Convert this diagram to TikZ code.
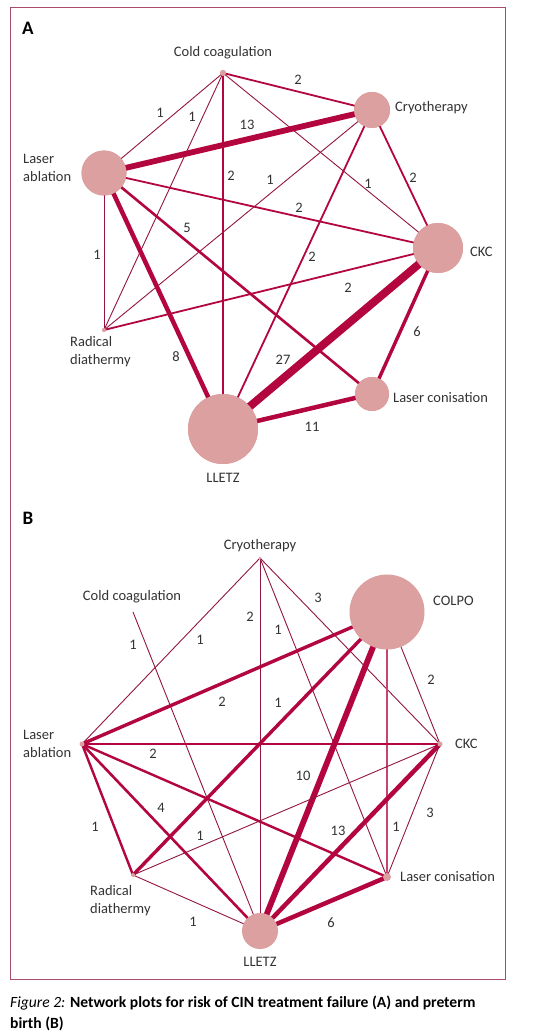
\documentclass[tikz,border=0pt]{standalone}
\usepackage{fontspec}
\setmainfont{Carlito}
\begin{document}
\begin{tikzpicture}[x=1pt,y=-1pt,
  nd/.style={circle,fill=nodefill,inner sep=0pt,minimum size=#1},
  lbl/.style={text=txt,font=\fontsize{14.5}{18}\selectfont,inner sep=0pt},
  num/.style={text=txt,font=\fontsize{14.5}{18}\selectfont,inner sep=0pt},
  w1/.style={draw=edgedark,line width=0.9pt},
  w2/.style={draw=edgec,line width=1.8pt},
  w3/.style={draw=edgec,line width=2.6pt},
  w4/.style={draw=edgec,line width=3.4pt},
  w5/.style={draw=edgec,line width=4.5pt},
  w6/.style={draw=edgec,line width=5.8pt},
  w8/.style={draw=edgec,line width=8pt},
  panel/.style={font=\fontsize{19}{22}\selectfont\bfseries,text=black,inner sep=0pt}
]
\definecolor{edgec}{HTML}{B3063F}
\definecolor{edgedark}{HTML}{92163F}
\definecolor{nodefill}{HTML}{DCA0A0}
\definecolor{txt}{HTML}{333333}
\definecolor{framec}{HTML}{A84C6C}
\useasboundingbox[fill=white] (0,0) rectangle (543,1032);
\draw[framec,line width=1pt] (10,8) rectangle (505,979);

% ---------------- Panel A ----------------
\node[panel] (pA) at (28,28) {A};
\node[nd=6pt] (aCC) at (223,73) {};
\node[nd=36pt] (aCR) at (372,110) {};
\node[nd=45pt] (aLA) at (104,173) {};
\node[nd=50pt] (aCK) at (438,248) {};
\node[nd=4pt] (aRD) at (104,330) {};
\node[nd=70pt] (aLL) at (223,429) {};
\node[nd=34pt] (aLC) at (372,394) {};

\draw[w2] (aCC.center) -- (aCR.center);
\draw[w1] (aCC.center) -- (aLA.center);
\draw[w1] (aCC.center) -- (aRD.center);
\draw[w2] (aCC.center) -- (aLL.center);
\draw[w1] (aCC.center) -- (aCK.center);
\draw[w6] (aLA.center) -- (aCR.center);
\draw[w1] (aCR.center) -- (aRD.center);
\draw[w2] (aCR.center) -- (aLL.center);
\draw[w2] (aCR.center) -- (aCK.center);
\draw[w2] (aLA.center) -- (aCK.center);
\draw[w3] (aLA.center) -- (aLC.center);
\draw[w5] (aLA.center) -- (aLL.center);
\draw[w1] (aLA.center) -- (aRD.center);
\draw[w2] (aRD.center) -- (aCK.center);
\draw[w8] (aCK.center) -- (aLL.center);
\draw[w4] (aCK.center) -- (aLC.center);
\draw[w5] (aLL.center) -- (aLC.center);

\node[nd=6pt] at (aCC) {};
\node[nd=36pt] at (aCR) {};
\node[nd=45pt] at (aLA) {};
\node[nd=50pt] at (aCK) {};
\node[nd=4pt] at (aRD) {};
\node[nd=70pt] at (aLL) {};
\node[nd=34pt] at (aLC) {};

\node[lbl] (taCC) at (223,53) {Cold coagulation};
\node[lbl,anchor=west] (taCR) at (395,108) {Cryotherapy};
\node[lbl,anchor=west,align=left] (taLA) at (23,168) {Laser\\ablation};
\node[lbl,anchor=west] (taCK) at (470,252) {CKC};
\node[lbl,anchor=west,align=left] (taRD) at (70,352) {Radical\\diathermy};
\node[lbl] (taLL) at (223,478) {LLETZ};
\node[lbl,anchor=west] (taLC) at (393,398) {Laser conisation};

\node[num] (na1) at (298,80) {2};
\node[num] (na2) at (160,113) {1};
\node[num] (na3) at (192,117) {1};
\node[num] (na4) at (247,125) {13};
\node[num] (na5) at (231,176) {2};
\node[num] (na6) at (270,180) {1};
\node[num] (na7) at (368,184) {1};
\node[num] (na8) at (413,178) {2};
\node[num] (na9) at (299,208) {2};
\node[num] (na10) at (187,228) {5};
\node[num] (na11) at (97,255) {1};
\node[num] (na12) at (312,257) {2};
\node[num] (na13) at (348,288) {2};
\node[num] (na14) at (417,332) {6};
\node[num] (na15) at (176,357) {8};
\node[num] (na16) at (283,360) {27};
\node[num] (na17) at (312,427) {11};

% ---------------- Panel B ----------------
\node[panel] (pB) at (28,518) {B};
\coordinate (bCR) at (260,558);
\coordinate (bCC) at (133,612);
\coordinate (bCO) at (387,612);
\coordinate (bLA) at (82,744);
\coordinate (bCK) at (440,744);
\coordinate (bRD) at (133,875);
\coordinate (bLL) at (260,931);
\coordinate (bLC) at (387,877);

\draw[w1] (bCC) -- (bLL);
\draw[w1] (bCR) -- (bLA);
\draw[w1] (bCR) -- (bLL);
\draw[w1] (bCR) -- (bLC);
\draw[w1] (bCR) -- (bCK);
\draw[w4] (bCO) -- (bLA);
\draw[w4] (bCO) -- (bRD);
\draw[w6] (bCO) -- (bLL);
\draw[w1] (bCO) -- (bCK);
\draw[edgec!75,line width=1.5pt] (bCO) -- (bLC);
\draw[w2] (bLA) -- (bCK);
\draw[draw=edgec,line width=2.4pt] (bLA) -- (bRD);
\draw[w3] (bLA) -- (bLL);
\draw[draw=edgec,line width=2.4pt] (bLA) -- (bLC);
\draw[w1] (bRD) -- (bCK);
\draw[w1] (bRD) -- (bLL);
\draw[w5] (bCK) -- (bLL);
\draw[w1] (bCK) -- (bLC);
\draw[w5] (bLL) -- (bLC);

\node[nd=3pt] (nbCR) at (bCR) {};
\node[nd=75pt] (nbCO) at (bCO) {};
\node[nd=5pt] (nbLA) at (bLA) {};
\node[nd=5pt] (nbCK) at (bCK) {};
\node[nd=4pt] (nbRD) at (bRD) {};
\node[nd=36pt] (nbLL) at (bLL) {};
\node[nd=8pt] (nbLC) at (bLC) {};

\node[lbl] (tbCR) at (260,546) {Cryotherapy};
\node[lbl] (tbCC) at (132,597) {Cold coagulation};
\node[lbl,anchor=west] (tbCO) at (433,601) {COLPO};
\node[lbl,anchor=west,align=left] (tbLA) at (23,744) {Laser\\ablation};
\node[lbl,anchor=west] (tbCK) at (455,744) {CKC};
\node[lbl,anchor=west,align=left] (tbRD) at (90,901) {Radical\\diathermy};
\node[lbl] (tbLL) at (260,962) {LLETZ};
\node[lbl,anchor=west] (tbLC) at (400,877) {Laser conisation};

\node[num] (nb1) at (133,645) {1};
\node[num] (nb2) at (200,640) {1};
\node[num] (nb3) at (250,617) {2};
\node[num] (nb4) at (278,630) {1};
\node[num] (nb5) at (318,598) {3};
\node[num] (nb6) at (431,680) {2};
\node[num] (nb7) at (222,702) {2};
\node[num] (nb8) at (278,703) {1};
\node[num] (nb9) at (153,754) {2};
\node[num] (nb10) at (303,776) {10};
\node[num] (nb11) at (161,808) {4};
\node[num] (nb12) at (95,827) {1};
\node[num] (nb13) at (200,836) {1};
\node[num] (nb14) at (338,831) {13};
\node[num] (nb15) at (396,827) {1};
\node[num] (nb16) at (430,813) {3};
\node[num] (nb17) at (193,922) {1};
\node[num] (nb18) at (331,923) {6};

% ---------------- Caption ----------------
\node[anchor=base west,inner sep=0pt,text=black,font=\fontsize{15.6}{18}\selectfont] (cap1) at (10,1007)
  {\textit{Figure 2:} \textbf{Network plots for risk of CIN treatment failure (A) and preterm}};
\node[anchor=base west,inner sep=0pt,text=black,font=\fontsize{15.6}{18}\selectfont\bfseries] (cap2) at (10,1028)
  {birth (B)};
\end{tikzpicture}
\end{document}
